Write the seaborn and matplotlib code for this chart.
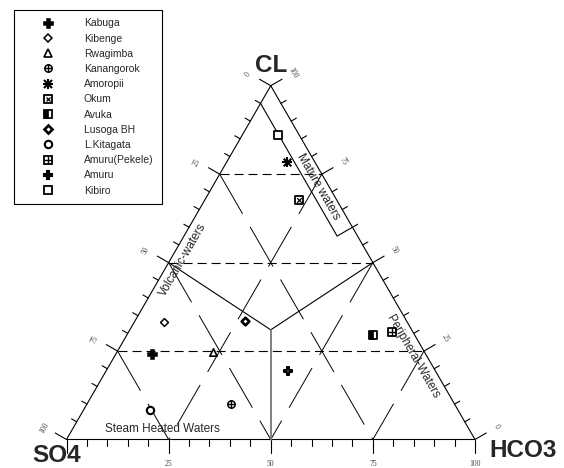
import numpy as np
import pandas as pd
import matplotlib
matplotlib.use("Agg")
import matplotlib.pyplot as plt
import seaborn as sns
from matplotlib.lines import Line2D

# ---------------- data (percent Cl / SO4 / HCO3) ----------------
sites = ["Kabuga", "Kibenge", "Rwagimba", "Kanangorok", "Amoropii", "Okum",
         "Avuka", "Lusoga BH", "L.Kitagata", "Amuru(Pekele)", "Amuru", "Kibiro"]
cl_pct = [24.3, 33.3, 24.8, 10.1, 78.3, 67.8, 29.5, 33.4, 8.3, 30.3, 19.3, 86.2]
so4_pct = [66.9, 59.4, 51.8, 54.6, 6.9, 9.3, 10.1, 39.5, 75.3, 5.2, 36.1, 5.2]
hco3_pct = [8.8, 7.3, 23.4, 35.3, 14.8, 22.9, 60.4, 27.1, 16.4, 64.5, 44.6, 8.6]

grid_levels = [25, 50, 75]
tick_values = list(range(0, 101, 5))
label_values = [0, 25, 50, 75, 100]
mature_so4 = 5
mature_cl = [95, 57.5]
center_field = [31, 34.5, 34.5]   # Cl, SO4, HCO3 of the field junction

# ---------------- style ----------------
sns.set_style("white")
plt.rcParams["font.family"] = ["Liberation Sans", "DejaVu Sans"]
plt.rcParams["lines.scale_dashes"] = False

X0, Y0, SIDE = 66.5, 439.5, 408.5
H = SIDE * np.sqrt(3) / 2


def tern(cl, so4, hco3):
    cl = np.asarray(cl, float) / 100.0
    hco3 = np.asarray(hco3, float) / 100.0
    return X0 + SIDE * (hco3 + cl / 2.0), Y0 - H * cl


fig = plt.figure(figsize=(5.64, 4.68), dpi=100)
ax = fig.add_axes([0, 0, 1, 1])

LW = 0.8
# outline
corners = [(100, 0, 0), (0, 100, 0), (0, 0, 100), (100, 0, 0)]
cx, cy = zip(*[tern(*c) for c in corners])
ax.plot(cx, cy, color="black", lw=LW, zorder=3)

# ticks
nL = np.array([-np.sqrt(3) / 2, -0.5])
nR = np.array([np.sqrt(3) / 2, -0.5])
nB = np.array([0.0, 1.0])
for v in tick_values:
    ln = 13 if v % 25 == 0 else 6
    for p, n in ((tern(0, 100 - v, v), nB), (tern(100 - v, v, 0), nL),
                 (tern(v, 0, 100 - v), nR)):
        p = np.array(p, float)
        q = p + ln * n
        ax.plot([p[0], q[0]], [p[1], q[1]], color="black", lw=LW, zorder=3)

serif = dict(family=["Liberation Serif", "DejaVu Serif"], fontsize=5.5, color="#444444")
for v in label_values:
    if v > 0:
        bx, by = tern(0, 100 - v, v)
        ax.text(bx, 464, str(v), ha="center", va="center", **serif)
    lp = np.array(tern(100 - v, v, 0), float) + 26 * nL + np.array([0, 1.5])
    ax.text(lp[0], lp[1], str(v), ha="center", va="center", rotation=60, **serif)
    rp = np.array(tern(v, 0, 100 - v), float) + 25 * nR
    ax.text(rp[0], rp[1], str(v), ha="center", va="center", rotation=-60, **serif)

# grid lines
for v in grid_levels:
    a = tern(v, 100 - v, 0); b = tern(v, 0, 100 - v)
    ax.plot([a[0], b[0]], [a[1], b[1]], color="black", lw=0.8,
            ls=(0, (6.5, 3.6)), zorder=2)
    a = tern(100 - v, v, 0); b = tern(0, v, 100 - v)
    ax.plot([a[0], b[0]], [a[1], b[1]], color="black", lw=0.7,
            ls=(0, (33, 10.8)), zorder=2)
    a = tern(100 - v, 0, v); b = tern(0, 100 - v, v)
    ax.plot([a[0], b[0]], [a[1], b[1]], color="black", lw=0.7,
            ls=(0, (33, 10.8)), zorder=2)

# field boundaries
c = tern(*center_field)
a = tern(50, 50, 0); b = tern(50, 0, 50); d = tern(0, 50, 50)
ax.plot([a[0], c[0], b[0]], [a[1], c[1], b[1]], color="black", lw=LW, zorder=3)
ax.plot([c[0], d[0]], [c[1], d[1]], color="#777777", lw=1.3, zorder=3)

# mature waters box
m1 = tern(mature_cl[0], mature_so4, 100 - mature_cl[0] - mature_so4)
m2 = tern(mature_cl[1], mature_so4, 100 - mature_cl[1] - mature_so4)
m3 = tern(mature_cl[1] + mature_so4 / 2, 0, 100 - mature_cl[1] - mature_so4 / 2)
ax.plot([m1[0], m2[0], m3[0]], [m1[1], m2[1], m3[1]], color="black", lw=LW, zorder=3)

# field names
ax.text(318, 187, "Mature waters", rotation=-60, ha="center", va="center", fontsize=8.5)
ax.text(183, 260, "Volcanic-waters", rotation=60, ha="center", va="center", fontsize=8.5)
ax.text(413, 357, "Peripheral-Waters", rotation=-60, ha="center", va="center", fontsize=8.5)
ax.text(162.5, 429, "Steam Heated Waters", ha="center", va="center", fontsize=8.5)

# corner labels
big = dict(fontsize=17.5, fontweight="bold")
ax.text(271.5, 72, "CL", ha="center", va="baseline", **big)
ax.text(32, 462.5, "SO4", ha="left", va="baseline", **big)
ax.text(489, 457, "HCO3", ha="left", va="baseline", **big)

# ---------------- data points ----------------
px, py = tern(cl_pct, so4_pct, hco3_pct)
df = pd.DataFrame({"site": sites, "x": px, "y": py})

left_half = [(-1, -1), (0, -1), (0, 1), (-1, 1), (-1, -1)]
styles = {
    "Kabuga": [dict(marker="P", s=42, fc="black", ec="black", lw=0.4)],
    "Kibenge": [dict(marker="D", s=16, fc="white", ec="black", lw=1.1)],
    "Rwagimba": [dict(marker="^", s=28, fc="white", ec="black", lw=1.2)],
    "Kanangorok": [dict(marker="o", s=28, fc="white", ec="black", lw=1.1),
                   dict(marker="+", s=28, fc="black", ec="black", lw=1.0)],
    "Amoropii": [dict(marker="+", s=46, fc="black", ec="black", lw=1.5),
                 dict(marker="x", s=30, fc="black", ec="black", lw=1.5)],
    "Okum": [dict(marker="s", s=30, fc="white", ec="black", lw=1.3),
             dict(marker="x", s=12, fc="black", ec="black", lw=0.9)],
    "Avuka": [dict(marker="s", s=30, fc="white", ec="black", lw=1.3),
              dict(marker=left_half, s=30, fc="black", ec="black", lw=0.5)],
    "Lusoga BH": [dict(marker="D", s=15, fc="white", ec="black", lw=1.9)],
    "L.Kitagata": [dict(marker="o", s=28, fc="white", ec="black", lw=1.5)],
    "Amuru(Pekele)": [dict(marker="s", s=30, fc="white", ec="black", lw=1.3),
                      dict(marker="+", s=30, fc="black", ec="black", lw=1.0)],
    "Amuru": [dict(marker="P", s=40, fc="white", ec="black", lw=1.5)],
    "Kibiro": [dict(marker="s", s=30, fc="white", ec="black", lw=1.3)],
}

handles = []
for name in sites:
    sub = df[df["site"] == name]
    parts = []
    for k, st in enumerate(styles[name]):
        sns.scatterplot(data=sub, x="x", y="y", ax=ax, marker=st["marker"], s=st["s"],
                        color=st["fc"], edgecolor=st["ec"], linewidth=st["lw"],
                        legend=False, zorder=5 + k)
        parts.append(Line2D([], [], ls="None", marker=st["marker"], ms=np.sqrt(st["s"]),
                            mfc=st["fc"], mec=st["ec"], mew=st["lw"],
                            color=st["ec"]))
    handles.append(tuple(parts) if len(parts) > 1 else parts[0])

leg = ax.legend(handles, sites, loc="upper left",
                bbox_to_anchor=(14 / 564, 1 - 10 / 468), bbox_transform=fig.transFigure,
                borderaxespad=0, fontsize=7.5, frameon=True, fancybox=False,
                edgecolor="black", framealpha=1, borderpad=0.8, handlelength=4.9,
                handletextpad=1.0, labelspacing=0.5, numpoints=1)
leg.get_frame().set_linewidth(0.8)

ax.set_xlim(0, 564)
ax.set_ylim(468, 0)
ax.axis("off")
fig.savefig("out.png", dpi=100)
